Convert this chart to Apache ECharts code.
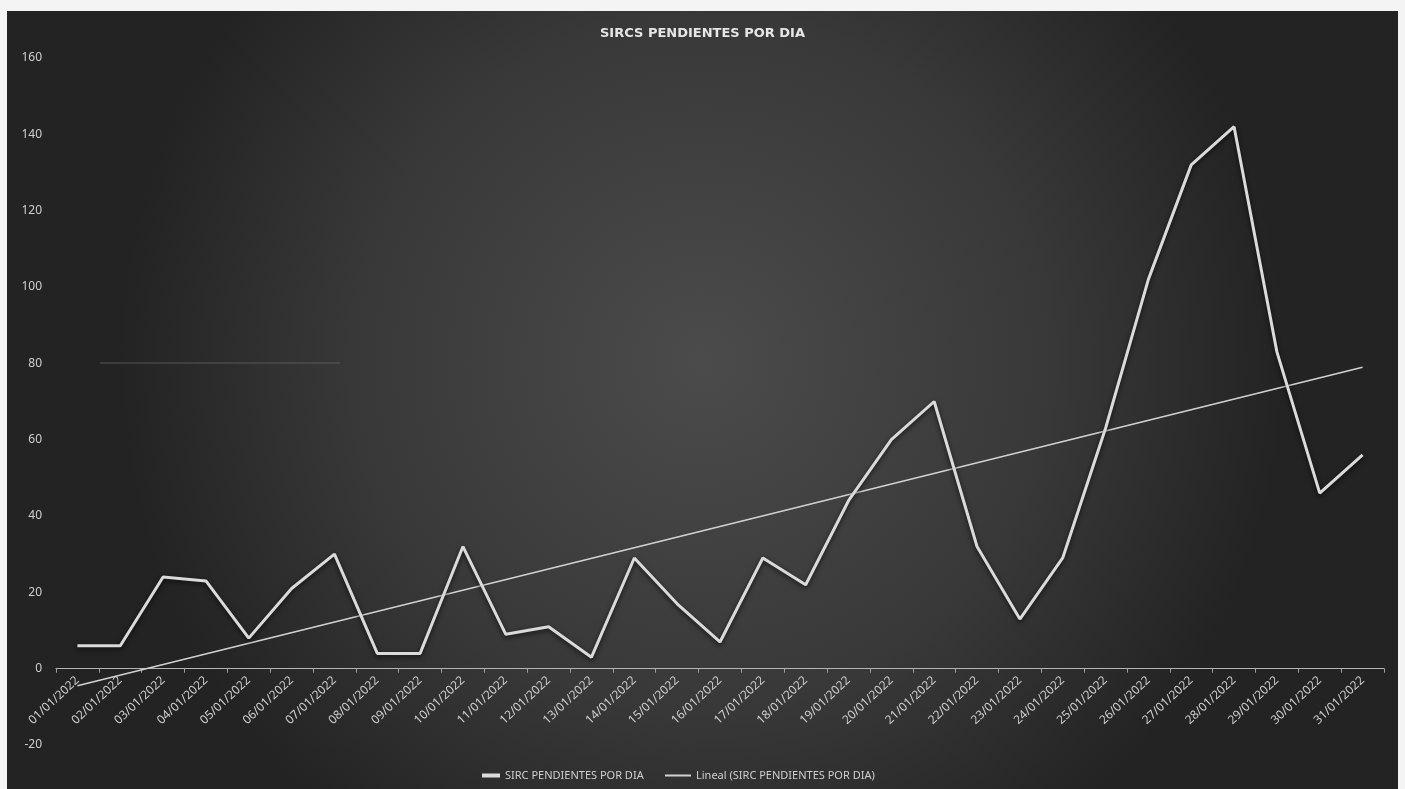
<!DOCTYPE html>
<html>
<head>
<meta charset="utf-8">
<title>SIRCS PENDIENTES POR DIA</title>
<script src="https://cdn.jsdelivr.net/npm/echarts@6/dist/echarts.min.js"></script>
<style>
  html, body { margin: 0; padding: 0; background: #f4f4f4; overflow: hidden; }
  #chart { position: absolute; left: 7px; top: 11px; width: 1391px; height: 778px; }
</style>
</head>
<body>
<div id="chart"></div>
<script>
// fechas (eje x)
var dates = [
  '01/01/2022', '02/01/2022', '03/01/2022', '04/01/2022', '05/01/2022', '06/01/2022',
  '07/01/2022', '08/01/2022', '09/01/2022', '10/01/2022', '11/01/2022', '12/01/2022',
  '13/01/2022', '14/01/2022', '15/01/2022', '16/01/2022', '17/01/2022', '18/01/2022',
  '19/01/2022', '20/01/2022', '21/01/2022', '22/01/2022', '23/01/2022', '24/01/2022',
  '25/01/2022', '26/01/2022', '27/01/2022', '28/01/2022', '29/01/2022', '30/01/2022',
  '31/01/2022'
];

// SIRC pendientes por dia
var pendientes = [
  6, 6, 24, 23, 8, 21, 30, 4, 4, 32, 9, 11, 3, 29, 17, 7,
  29, 22, 44, 60, 70, 32, 13, 29, 63, 102, 132, 142, 83, 46, 56
];

// tendencia lineal (extremos)
var trendStart = -4.5;
var trendEnd = 79;

// eje y
var yMin = -20;
var yMax = 160;
var yStep = 20;

var txtColor = '#cfcfcf';
var font = 'Noto Sans';
var serieName = 'SIRC PENDIENTES POR DIA';
var trendName = 'Lineal (SIRC PENDIENTES POR DIA)';

var gridTop = 47;
var gridBottom = 44;
var chartHeight = 778;

var chart = echarts.init(document.getElementById('chart'));

// desplazar el eje x hasta el valor 0
var plotHeight = chartHeight - gridTop - gridBottom;
var zeroOffset = plotHeight * (0 - yMin) / (yMax - yMin);

var option = {
  backgroundColor: {
    type: 'radial',
    x: 0.5,
    y: 0.45,
    r: 0.75,
    colorStops: [
      { offset: 0, color: '#4b4b4b' },
      { offset: 0.6, color: '#383838' },
      { offset: 1, color: '#232323' }
    ]
  },
  animation: false,
  title: {
    text: 'SIRCS PENDIENTES POR DIA',
    left: 'center',
    top: 11,
    textStyle: {
      color: '#e6e6e6',
      fontFamily: 'DejaVu Sans',
      fontSize: 13,
      fontWeight: 'bold'
    }
  },
  legend: [{
    left: 470,
    top: 754,
    icon: 'rect',
    itemWidth: 18,
    itemHeight: 4,
    itemGap: 5,
    textStyle: { color: txtColor, fontFamily: font, fontSize: 11 },
    data: [serieName]
  }, {
    left: 653,
    top: 754,
    icon: 'rect',
    itemWidth: 26,
    itemHeight: 2,
    itemGap: 5,
    textStyle: { color: txtColor, fontFamily: font, fontSize: 11 },
    data: [trendName]
  }],
  grid: {
    left: 49,
    right: 14,
    top: gridTop,
    bottom: gridBottom,
    containLabel: false,
    outerBoundsMode: 'none'
  },
  xAxis: {
    type: 'category',
    boundaryGap: true,
    data: dates,
    offset: -zeroOffset,
    axisLine: {
      onZero: false,
      lineStyle: { color: '#b5b5b5', width: 1.2 }
    },
    axisTick: {
      show: true,
      length: 4,
      lineStyle: { color: '#a0a0a0' }
    },
    axisLabel: {
      interval: 0,
      rotate: 43,
      margin: 10,
      color: txtColor,
      fontFamily: font,
      fontSize: 12
    }
  },
  yAxis: {
    type: 'value',
    min: yMin,
    max: yMax,
    interval: yStep,
    axisLine: { show: false },
    axisTick: { show: false },
    splitLine: { show: false },
    axisLabel: {
      color: txtColor,
      fontFamily: font,
      fontSize: 12,
      margin: 14
    }
  },
  series: [{
    name: serieName,
    type: 'line',
    data: pendientes,
    symbol: 'none',
    lineStyle: {
      color: '#dadada',
      width: 3,
      shadowColor: 'rgba(0,0,0,0.7)',
      shadowBlur: 5,
      shadowOffsetY: 2
    },
    itemStyle: { color: '#dadada' }
  }, {
    name: trendName,
    type: 'line',
    data: [[dates[0], trendStart], [dates[dates.length - 1], trendEnd]],
    symbol: 'none',
    lineStyle: {
      color: '#d2d2d2',
      width: 1.5
    },
    itemStyle: { color: '#d2d2d2' },
    z: 1
  }],
  // linea tenue que aparece en la imagen original
  graphic: [{
    type: 'line',
    shape: { x1: 93, y1: 352, x2: 333, y2: 352 },
    style: { stroke: 'rgba(110,110,110,0.45)', lineWidth: 1.5 },
    silent: true
  }]
};

chart.setOption(option);
</script>
</body>
</html>
